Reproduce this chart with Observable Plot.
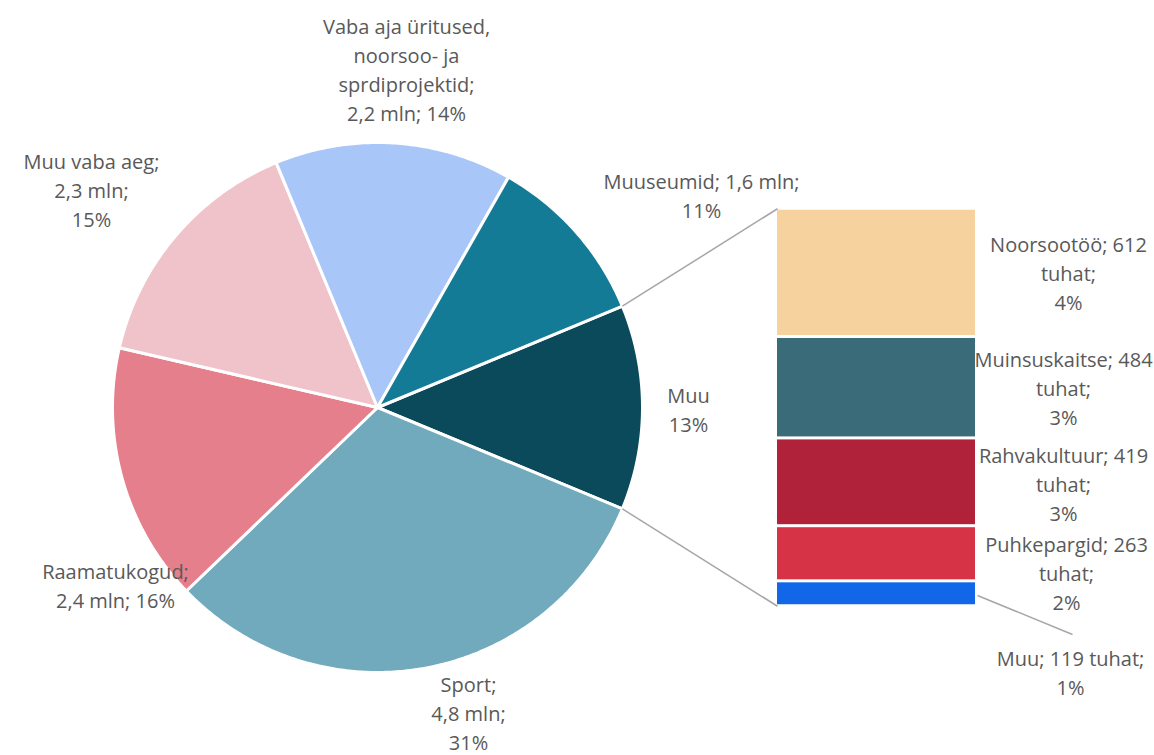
<!DOCTYPE html>
<html>
<head>
<meta charset="utf-8">
<script src="https://cdn.jsdelivr.net/npm/d3@7"></script>
<script src="https://cdn.jsdelivr.net/npm/@observablehq/plot@0.6"></script>
<style>
  html, body { margin: 0; padding: 0; background: #fff; }
  #chart { width: 1154px; height: 755px; }
</style>
</head>
<body>
<div id="chart"></div>
<script>
// ---- data ----
const pieNames  = ["Muu", "Sport", "Raamatukogud", "Muu vaba aeg", "Vaba aja üritused", "Muuseumid"];
const pieValues = [null, 4.8, 2.4, 2.3, 2.2, 1.6]; // mln; "Muu" = sum of bar
const pieColors = ["#0B4A5B", "#72AABD", "#E57F8B", "#F0C3CA", "#A9C6F8", "#137B96"];
const pieLabels = [
  "Muu\n13%",
  "Sport;\n4,8 mln;\n31%",
  "Raamatukogud;\n2,4 mln; 16%",
  "Muu vaba aeg;\n2,3 mln;\n15%",
  "Vaba aja üritused,\nnoorsoo- ja\nsprdiprojektid;\n2,2 mln; 14%",
  "Muuseumid; 1,6 mln;\n11%"
];

const barNames  = ["Noorsootöö", "Muinsuskaitse", "Rahvakultuur", "Puhkepargid", "Muu (väike)"];
const barValues = [612, 484, 419, 263, 119]; // tuhat
const barColors = ["#F5D29E", "#3A6B79", "#B0223A", "#D63347", "#1167E8"];
const barLabels = [
  "Noorsootöö; 612\ntuhat;\n4%",
  "Muinsuskaitse; 484\ntuhat;\n3%",
  "Rahvakultuur; 419\ntuhat;\n3%",
  "Puhkepargid; 263\ntuhat;\n2%",
  "Muu; 119 tuhat;\n1%"
];

// ---- layout (pixel space) ----
const W = 1154, H = 755;
const cx = 377, cy = 407, R = 265;
const barX1 = 777, barX2 = 975, barH = 1.5 * R;
const pieLabelPos = [[688, 408], [468, 711], [115, 584], [91, 188], [406, 68], [701, 194]];
const barLabelPos = [[1068, 271], [1063, 386], [1063, 482], [1066, 571], [1070, 671]];
const smallLeader = [[977, 595], [1072, 634]];

// ---- derived ----
const barTotal = d3.sum(barValues);
const values = pieValues.map((v, i) => i === 0 ? barTotal / 1000 : v);
const total = d3.sum(values);
const start = Math.PI / 2 - (values[0] / total) * Math.PI;
const arcs = d3.pie().sort(null).value(d => d).startAngle(start).endAngle(start + 2 * Math.PI)(values);

const pt = (a, r) => ({x: cx + r * Math.sin(a), y: cy - r * Math.cos(a)});
const slicePts = [];
arcs.forEach((a, i) => {
  const n = Math.max(8, Math.ceil((a.endAngle - a.startAngle) / 0.01));
  slicePts.push({name: pieNames[i], ...pt(0, 0)});
  for (let k = 0; k <= n; k++) {
    const ang = a.startAngle + (a.endAngle - a.startAngle) * k / n;
    slicePts.push({name: pieNames[i], ...pt(ang, R)});
  }
  slicePts.push({name: pieNames[i], ...pt(0, 0)});
});

const barTop = cy - barH / 2;
let acc = 0;
const barRects = barValues.map((v, i) => {
  const y1 = barTop + acc / barTotal * barH;
  acc += v;
  const y2 = barTop + acc / barTotal * barH;
  return {name: barNames[i], y1, y2};
});

const muuArc = arcs[0];
const p0 = pt(muuArc.startAngle, R), p1 = pt(muuArc.endAngle, R);
const connectors = [
  {x1: p0.x, y1: p0.y, x2: barX1, y2: barRects[0].y1},
  {x1: p1.x, y1: p1.y, x2: barX1, y2: barRects[barRects.length - 1].y2},
  {x1: smallLeader[0][0], y1: smallLeader[0][1], x2: smallLeader[1][0], y2: smallLeader[1][1]}
];

const labels = [
  ...pieLabels.map((t, i) => ({t, x: pieLabelPos[i][0], y: pieLabelPos[i][1]})),
  ...barLabels.map((t, i) => ({t, x: barLabelPos[i][0], y: barLabelPos[i][1]}))
];

const chart = Plot.plot({
  width: W, height: H,
  margin: 0,
  x: {domain: [0, W], axis: null},
  y: {domain: [H, 0], axis: null},
  color: {domain: [...pieNames, ...barNames], range: [...pieColors, ...barColors]},
  style: {fontFamily: "'Open Sans', Lato, sans-serif", background: "#fff"},
  marks: [
    Plot.line(slicePts, {x: "x", y: "y", z: "name", fill: "name", stroke: "white", strokeWidth: 3, strokeLinejoin: "round"}),
    Plot.rect(barRects, {x1: () => barX1, x2: () => barX2, y1: "y1", y2: "y2", fill: "name", insetTop: 1.5, insetBottom: 1.5}),
    Plot.link(connectors, {x1: "x1", y1: "y1", x2: "x2", y2: "y2", stroke: "#A6A6A6", strokeWidth: 1.5}),
    Plot.text(labels, {x: "x", y: "y", text: "t", fill: "#595959", fontSize: 20, lineHeight: 1.45, textAnchor: "middle"})
  ]
});
document.getElementById("chart").appendChild(chart);
</script>
</body>
</html>
